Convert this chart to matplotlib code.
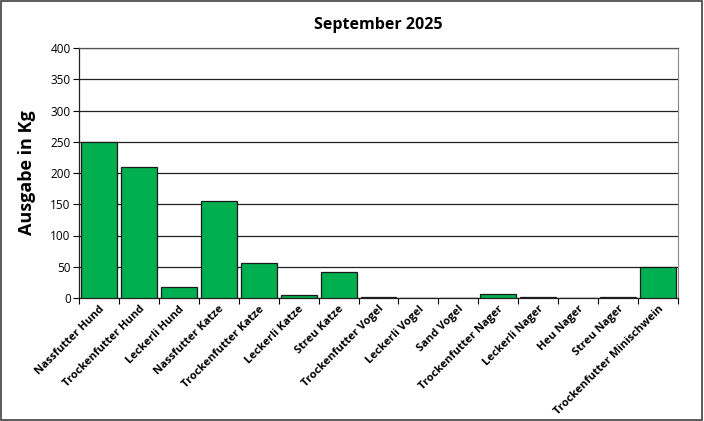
import matplotlib.pyplot as plt
import numpy as np

categories = ['Nassfutter Hund', 'Trockenfutter Hund', 'Leckerli Hund',
              'Nassfutter Katze', 'Trockenfutter Katze', 'Leckerli Katze',
              'Streu Katze', 'Trockenfutter Vogel', 'Leckerli Vogel',
              'Sand Vogel', 'Trockenfutter Nager', 'Leckerli Nager',
              'Heu Nager', 'Streu Nager', 'Trockenfutter Minischwein']
values = [250, 209, 17, 156, 56, 5, 41, 1, 0, 0, 6, 1, 0, 1, 50]
yticks = [0, 50, 100, 150, 200, 250, 300, 350, 400]

plt.rcParams['font.family'] = ['Open Sans', 'DejaVu Sans']

fig = plt.figure(figsize=(7.04, 4.21), dpi=100)
ax = fig.add_axes([79 / 704, 1 - 298 / 421, 599 / 704, 250 / 421])

# Figure border
fig.patches.append(plt.Rectangle((0.002, 0.003), 0.995, 0.994, transform=fig.transFigure,
                                 fill=False, edgecolor='#404040', linewidth=1.2))

x = np.arange(len(categories))
ax.bar(x, values, width=0.9, color='#00b050', edgecolor='#1a1a1a', linewidth=0.9, zorder=3)

ax.set_xlim(-0.5, len(categories) - 0.5)
ax.set_ylim(0, 400)
ax.set_yticks(yticks)
ax.set_yticklabels([str(v) for v in yticks], fontsize=8.5)
ax.grid(axis='y', color='#222222', linewidth=0.9, zorder=0)
ax.tick_params(axis='y', length=4, width=0.8, pad=2)

# ticks between categories on x axis
ax.set_xticks(np.arange(-0.5, len(categories), 1), minor=False)
ax.set_xticklabels([])
ax.set_xticks(x, minor=True)
ax.set_xticklabels(categories, minor=True, rotation=45, ha='right', rotation_mode='anchor',
                   fontsize=8, fontweight='bold')
ax.tick_params(axis='x', which='major', length=4, width=0.8)
ax.tick_params(axis='x', which='minor', length=0, pad=4)

for s in ['left', 'bottom']:
    ax.spines[s].set_color('#222222')
    ax.spines[s].set_linewidth(0.9)
ax.spines['right'].set_color('#888888')
ax.spines['top'].set_color('#555555')
ax.spines['top'].set_linewidth(0.9)

ax.set_ylabel('Ausgabe in Kg', fontsize=13, fontweight='bold', labelpad=10)
ax.set_title('September 2025', fontsize=11.5, fontweight='bold', pad=14)

fig.savefig('out.png', dpi=100)
